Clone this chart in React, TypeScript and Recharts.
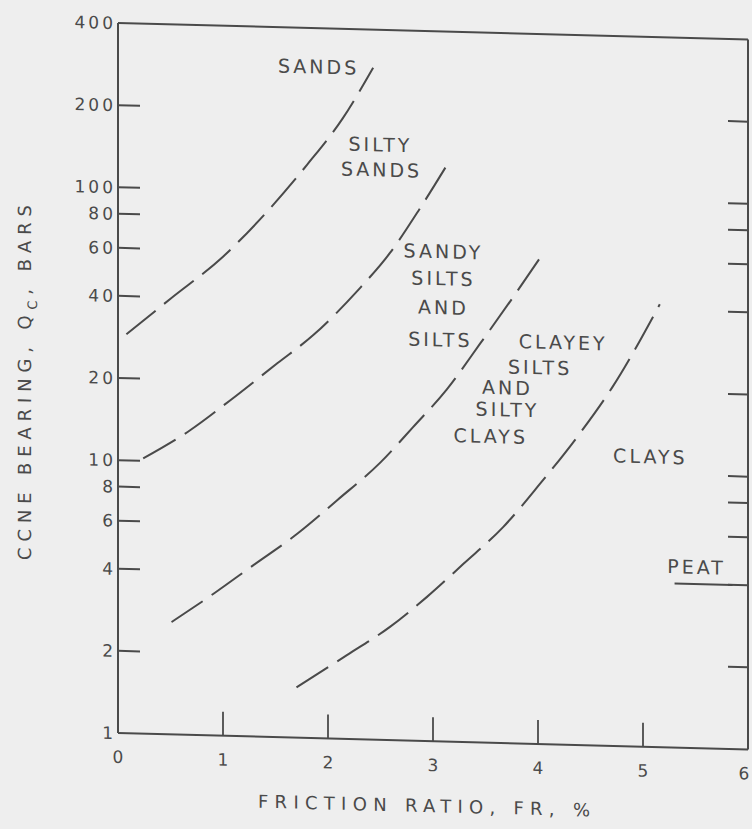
import React from 'react';
import { LineChart, Line, XAxis, YAxis, ReferenceDot, Label } from 'recharts';

// axis ticks
const xTicks = [0, 1, 2, 3, 4, 5, 6];
const innerXTicks = [1, 2, 3, 4, 5];
const yTicks = [1, 2, 4, 6, 8, 10, 20, 40, 60, 80, 100, 200, 400];
const innerYTicks = [2, 4, 6, 8, 10, 20, 40, 60, 80, 100, 200];

// zone boundaries: friction ratio (%) -> cone bearing (bars)
const sandsBoundary = [
  { x: 0.08, y: 29 }, { x: 0.5, y: 39.5 }, { x: 1.0, y: 57 }, { x: 1.43, y: 85 },
  { x: 1.8, y: 126 }, { x: 2.14, y: 188 }, { x: 2.43, y: 290 },
];
const siltySandsBoundary = [
  { x: 0.24, y: 10.2 }, { x: 0.69, y: 13.1 }, { x: 1.07, y: 17 }, { x: 1.52, y: 23.5 },
  { x: 1.86, y: 30 }, { x: 2.28, y: 44 }, { x: 2.59, y: 61 }, { x: 2.88, y: 90 }, { x: 3.16, y: 135 },
];
const sandySiltsBoundary = [
  { x: 0.51, y: 2.58 }, { x: 0.92, y: 3.33 }, { x: 1.29, y: 4.25 }, { x: 1.71, y: 5.6 },
  { x: 2.09, y: 7.5 }, { x: 2.5, y: 10.4 }, { x: 2.81, y: 14.1 }, { x: 3.13, y: 19.5 },
  { x: 3.45, y: 29 }, { x: 3.76, y: 43 }, { x: 4.05, y: 63 },
];
const clayeySiltsBoundary = [
  { x: 1.7, y: 1.53 }, { x: 2.18, y: 2.03 }, { x: 2.59, y: 2.6 }, { x: 2.94, y: 3.37 },
  { x: 3.29, y: 4.5 }, { x: 3.67, y: 6.2 }, { x: 4.02, y: 9 }, { x: 4.4, y: 13.9 },
  { x: 4.71, y: 20.7 }, { x: 5.16, y: 42 },
];

// zone names, one entry per line of lettering
const zoneLabels = [
  { text: 'SANDS', x: 1.91, y: 289 },
  { text: 'SILTY', x: 2.5, y: 152 },
  { text: 'SANDS', x: 2.51, y: 123 },
  { text: 'SANDY', x: 3.1, y: 62.5 },
  { text: 'SILTS', x: 3.1, y: 49.8 },
  { text: 'AND', x: 3.1, y: 39 },
  { text: 'SILTS', x: 3.07, y: 29.7 },
  { text: 'CLAYEY', x: 4.24, y: 29.8 },
  { text: 'SILTS', x: 4.02, y: 24 },
  { text: 'AND', x: 3.71, y: 20.1 },
  { text: 'SILTY', x: 3.71, y: 16.7 },
  { text: 'CLAYS', x: 3.55, y: 13.3 },
  { text: 'CLAYS', x: 5.07, y: 11.6 },
  { text: 'PEAT', x: 5.51, y: 4.61, underline: true },
];

const INK = '#4a4a4a';
const FONT = '"DejaVu Sans", sans-serif';
const dash = '38 11';

const LeftTick = (props: any) => {
  const { x, y, payload } = props;
  const v = payload.value;
  return (
    <g>
      {v !== 1 && v !== 400 && <line x1={x} x2={x + 22} y1={y} y2={y} stroke={INK} strokeWidth={2} />}
      <text x={x - 2} y={y} dy="0.36em" textAnchor="end" fontSize={17} letterSpacing={3} fontFamily={FONT} fill={INK}>
        {v}
      </text>
    </g>
  );
};

const RightTick = (props: any) => {
  const { x, y } = props;
  return <line x1={x - 20} x2={x} y1={y} y2={y} stroke={INK} strokeWidth={2} />;
};

const BottomTick = (props: any) => {
  const { x, y, payload } = props;
  const v = payload.value;
  return (
    <g>
      {v !== 0 && v !== 6 && <line x1={x} x2={x} y1={y} y2={y - 24} stroke={INK} strokeWidth={1.8} />}
      <text x={v === 6 ? x - 4 : x} y={y + 30} textAnchor="middle" fontSize={17} fontFamily={FONT} fill={INK}>
        {v}
      </text>
    </g>
  );
};

const TopTick = (props: any) => {
  const { x, y } = props;
  return <line x1={x} x2={x} y1={y} y2={y + 25} stroke={INK} strokeWidth={1.8} />;
};

const XTitle = () => (
  <text x={424} y={804} textAnchor="middle" fontSize={18} fontFamily={FONT}
    fill={INK} textLength={332} lengthAdjust="spacing">
    FRICTION RATIO, FR, %
  </text>
);

const YTitle = () => (
  <text x={31} y={385} transform="rotate(-90, 31, 385)" textAnchor="middle" fontSize={18} fontFamily={FONT}
    fill={INK} textLength={355} lengthAdjust="spacing">
    CCNE BEARING, Q<tspan dy={6} fontSize={13}>C</tspan><tspan dy={-6}>, BARS</tspan>
  </text>
);

const ZoneText = (text: string, underline?: boolean) => (props: any) => {
  const { cx, cy } = props;
  return (
    <g>
      <text x={cx} y={cy} dy="0.36em" textAnchor="middle" fontSize={19} letterSpacing={3} fontFamily={FONT} fill={INK}>
        {text}
      </text>
      {underline && <line x1={cx - 22} x2={cx + 36} y1={cy + 17} y2={cy + 17} stroke={INK} strokeWidth={2} />}
    </g>
  );
};

export default function App() {
  return (
    <div style={{ position: 'absolute', left: 0, top: 0, width: 752, height: 829, background: '#eeeeee', overflow: 'hidden' }}>
      <div style={{ transform: 'skewY(1.5deg)', transformOrigin: '118px 0px' }}>
        <LineChart width={752} height={829} margin={{ top: 3, right: 2, bottom: 36, left: 58 }}>
          <XAxis dataKey="x" type="number" domain={[0, 6]} ticks={xTicks} interval={0} height={60}
            tickSize={0} tickMargin={0} tickLine={false} tick={<BottomTick />}
            axisLine={{ stroke: INK, strokeWidth: 2 }} allowDataOverflow>
            <Label content={<XTitle />} />
          </XAxis>
          <XAxis xAxisId="top" orientation="top" type="number" domain={[0, 6]} ticks={innerXTicks} interval={0}
            height={20} tickSize={0} tickMargin={0} tickLine={false} tick={<TopTick />}
            axisLine={{ stroke: INK, strokeWidth: 2 }} allowDataOverflow />
          <YAxis type="number" scale="log" domain={[1, 400]} ticks={yTicks} interval={0} width={60}
            tickSize={0} tickMargin={0} tickLine={false} tick={<LeftTick />}
            axisLine={{ stroke: INK, strokeWidth: 2 }} allowDataOverflow>
            <Label content={<YTitle />} />
          </YAxis>
          <YAxis yAxisId="right" orientation="right" type="number" scale="log" domain={[1, 400]} ticks={innerYTicks}
            interval={0} width={2} tickSize={0} tickMargin={0} tickLine={false} tick={<RightTick />}
            axisLine={{ stroke: INK, strokeWidth: 2 }} allowDataOverflow />

          <Line data={sandsBoundary} dataKey="y" type="monotone" stroke={INK} strokeWidth={2}
            strokeDasharray={dash} dot={false} isAnimationActive={false} />
          <Line data={siltySandsBoundary} dataKey="y" type="monotone" stroke={INK} strokeWidth={2}
            strokeDasharray={dash} dot={false} isAnimationActive={false} />
          <Line data={sandySiltsBoundary} dataKey="y" type="monotone" stroke={INK} strokeWidth={2}
            strokeDasharray={dash} dot={false} isAnimationActive={false} />
          <Line data={clayeySiltsBoundary} dataKey="y" type="monotone" stroke={INK} strokeWidth={2}
            strokeDasharray={dash} dot={false} isAnimationActive={false} />

          {zoneLabels.map((z, i) => (
            <ReferenceDot key={i} x={z.x} y={z.y} r={0} shape={ZoneText(z.text, z.underline)} />
          ))}
        </LineChart>
      </div>
    </div>
  );
}
